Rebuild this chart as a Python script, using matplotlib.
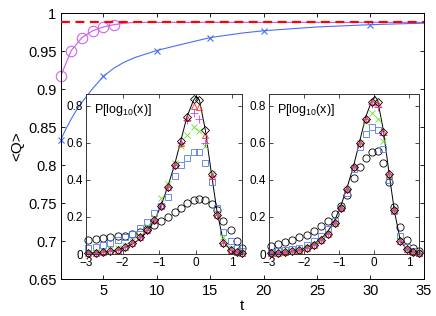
import matplotlib
matplotlib.use('Agg')
import matplotlib.pyplot as plt

plt.rcParams['font.family'] = ['Liberation Sans', 'DejaVu Sans']
plt.rcParams['mathtext.fontset'] = 'custom'
plt.rcParams['mathtext.rm'] = 'Liberation Sans'
plt.rcParams['axes.unicode_minus'] = True

# main panel: <Q> vs t
t_mag = [1, 2, 3, 4, 5, 6]
q_mag = [0.917, 0.951, 0.968, 0.977, 0.982, 0.985]
t_mag_line = [1, 2, 3, 4, 5, 6, 7, 8, 10, 15, 20, 25, 30, 35]
q_mag_line = [0.917, 0.951, 0.968, 0.977, 0.982, 0.985, 0.987, 0.988, 0.988,
              0.988, 0.988, 0.988, 0.988, 0.988]

t_blue = [1, 5, 10, 15, 20, 30]
q_blue = [0.833, 0.917, 0.951, 0.968, 0.977, 0.985]
t_blue_line = [1, 1.5, 2, 2.5, 3, 4, 5, 6, 7, 8, 10, 12, 15, 18, 20, 25, 30, 35]
q_blue_line = [0.833, 0.848, 0.861, 0.873, 0.883, 0.901, 0.917, 0.928, 0.936,
               0.942, 0.951, 0.958, 0.968, 0.974, 0.977, 0.982, 0.985, 0.987]

q_limit = 0.989

# insets: P[log10(x)]
xb = [-2.93, -2.73, -2.53, -2.33, -2.13, -1.93, -1.73, -1.53, -1.33, -1.13,
      -0.95, -0.77, -0.58, -0.41, -0.24, -0.06, 0.1, 0.26, 0.43, 0.58,
      0.75, 0.95, 1.12, 1.27]

theory_x = [-2.93, -2.73, -2.53, -2.33, -2.13, -1.93, -1.73, -1.53, -1.33, -1.13,
            -0.95, -0.77, -0.58, -0.41, -0.24, -0.06, 0.02, 0.1, 0.26, 0.43,
            0.58, 0.75, 0.95, 1.12, 1.27]
theory_y = [0.005, 0.007, 0.01, 0.015, 0.022, 0.035, 0.055, 0.08, 0.12, 0.18,
            0.26, 0.36, 0.48, 0.61, 0.74, 0.83, 0.85, 0.83, 0.67, 0.43,
            0.23, 0.07, 0.02, 0.008, 0.004]

# left inset
circ1 = [0.075, 0.08, 0.085, 0.09, 0.095, 0.1, 0.11, 0.12, 0.135, 0.155,
         0.18, 0.2, 0.225, 0.25, 0.275, 0.29, 0.295, 0.29, 0.27, 0.235,
         0.18, 0.13, 0.07, 0.03]
sq1 = [0.035, 0.04, 0.05, 0.06, 0.075, 0.09, 0.11, 0.14, 0.175, 0.22,
       0.26, 0.31, 0.42, 0.48, 0.52, 0.55, 0.55, 0.49, 0.39, 0.25,
       0.12, 0.07, 0.03, 0.015]
x1 = [0.01, 0.012, 0.017, 0.025, 0.035, 0.05, 0.07, 0.1, 0.15, 0.2,
      0.3, 0.38, 0.49, 0.58, 0.64, 0.685, 0.665, 0.58, 0.43, 0.22,
      0.09, 0.03, 0.012, 0.005]
plus1 = [0.006, 0.008, 0.011, 0.016, 0.024, 0.037, 0.06, 0.09, 0.13, 0.185,
         0.27, 0.36, 0.48, 0.6, 0.72, 0.76, 0.73, 0.6, 0.42, 0.21,
         0.06, 0.02, 0.01, 0.005]
tri1 = [0.006, 0.008, 0.011, 0.016, 0.024, 0.037, 0.06, 0.09, 0.13, 0.185,
        0.265, 0.36, 0.48, 0.6, 0.735, 0.8, 0.79, 0.64, 0.42, 0.21,
        0.06, 0.02, 0.01, 0.005]
dia1 = [0.005, 0.007, 0.01, 0.015, 0.024, 0.037, 0.06, 0.09, 0.13, 0.185,
        0.26, 0.36, 0.48, 0.61, 0.74, 0.835, 0.83, 0.67, 0.43, 0.21,
        0.06, 0.02, 0.01, 0.005]

# right inset
circ2 = [0.045, 0.055, 0.065, 0.075, 0.09, 0.105, 0.125, 0.15, 0.18, 0.215,
         0.26, 0.32, 0.41, 0.47, 0.52, 0.55, 0.555, 0.49, 0.39, 0.255,
         0.145, 0.075, 0.035, 0.015]
sq2 = [0.012, 0.015, 0.02, 0.025, 0.035, 0.05, 0.07, 0.1, 0.135, 0.18,
       0.25, 0.33, 0.46, 0.575, 0.645, 0.685, 0.67, 0.565, 0.4, 0.23,
       0.1, 0.04, 0.015, 0.006]
x2 = [0.006, 0.008, 0.011, 0.016, 0.023, 0.036, 0.052, 0.077, 0.112, 0.17,
      0.25, 0.35, 0.47, 0.6, 0.71, 0.76, 0.73, 0.61, 0.42, 0.24,
      0.075, 0.027, 0.01, 0.005]
plus2 = [0.005, 0.007, 0.01, 0.015, 0.022, 0.035, 0.05, 0.075, 0.11, 0.17,
         0.25, 0.35, 0.47, 0.6, 0.73, 0.81, 0.79, 0.64, 0.43, 0.24,
         0.07, 0.025, 0.01, 0.005]
tri2 = [0.005, 0.007, 0.01, 0.015, 0.022, 0.035, 0.05, 0.075, 0.11, 0.17,
        0.25, 0.35, 0.47, 0.6, 0.73, 0.82, 0.81, 0.66, 0.43, 0.24,
        0.07, 0.025, 0.01, 0.005]
dia2 = [0.005, 0.007, 0.01, 0.015, 0.022, 0.035, 0.05, 0.075, 0.11, 0.17,
        0.25, 0.35, 0.47, 0.6, 0.73, 0.82, 0.82, 0.66, 0.43, 0.24,
        0.07, 0.025, 0.01, 0.005]

fig = plt.figure(figsize=(4.36, 3.16), dpi=100)
ax = fig.add_axes([0.139, 0.116, 0.833, 0.842])

ax.axhline(q_limit, color='red', linestyle='--', linewidth=1.6, dashes=(4, 2.5), zorder=3)
ax.plot(t_mag_line, q_mag_line, color='#cc66ee', linewidth=0.9, zorder=2)
ax.plot(t_mag, q_mag, 'o', color='#cc66ee', markerfacecolor='none',
        markersize=7.5, markeredgewidth=0.8, zorder=2, clip_on=False)
ax.plot(t_blue_line, q_blue_line, color='#4a6ef0', linewidth=0.8)
ax.plot(t_blue, q_blue, 'x', color='#4a6ef0', markersize=4.5, markeredgewidth=0.8,
        clip_on=False)

ax.set_xlim(1, 35)
ax.set_ylim(0.65, 1)
ax.set_xticks([5, 10, 15, 20, 25, 30, 35])
ax.set_yticks([0.65, 0.7, 0.75, 0.8, 0.85, 0.9, 0.95, 1])
ax.set_yticklabels(['0.65', '0.7', '0.75', '0.8', '0.85', '0.9', '0.95', '1'])
ax.tick_params(direction='in', top=True, right=True, labelsize=10.5, length=3,
               width=0.6, pad=3)
for s in ax.spines.values():
    s.set_linewidth(0.7)
ax.set_xlabel('t', fontsize=11, labelpad=1)
ax.set_ylabel('<Q>', fontsize=11, labelpad=3)


def inset(rect, series, xmax):
    a = fig.add_axes(rect)
    a.plot(theory_x, theory_y, color='black', linewidth=0.7, zorder=1)
    styles = [('o', 'black', 5.2), ('s', '#5578ee', 4.6), ('x', '#66dd22', 4.2),
              ('+', '#cc44ee', 5.2), ('^', '#ff3030', 5.0), ('D', 'black', 4.0)]
    for ys, (m, c, ms) in zip(series, styles):
        a.plot(xb, ys, m, color=c, markerfacecolor='none', markersize=ms,
               markeredgewidth=0.6, clip_on=False)
    a.set_xlim(-3, xmax)
    a.set_ylim(0, 0.86)
    a.set_xticks([-3, -2, -1, 0, 1])
    a.set_yticks([0, 0.2, 0.4, 0.6, 0.8])
    a.set_yticklabels(['0', '0.2', '0.4', '0.6', '0.8'])
    a.tick_params(direction='in', top=True, right=True, labelsize=8.5, length=3,
                  width=0.5, pad=2)
    for s in a.spines.values():
        s.set_linewidth(0.7)
        s.set_color('#333333')
    a.text(0.05, 0.95, 'P[log$_{10}$(x)]', transform=a.transAxes, fontsize=9,
           va='top', ha='left')
    return a


inset([0.197, 0.196, 0.357, 0.505], [circ1, sq1, x1, plus1, tri1, dia1], 1.25)
inset([0.617, 0.196, 0.344, 0.505], [circ2, sq2, x2, plus2, tri2, dia2], 1.28)

fig.savefig('out.png', dpi=100)
